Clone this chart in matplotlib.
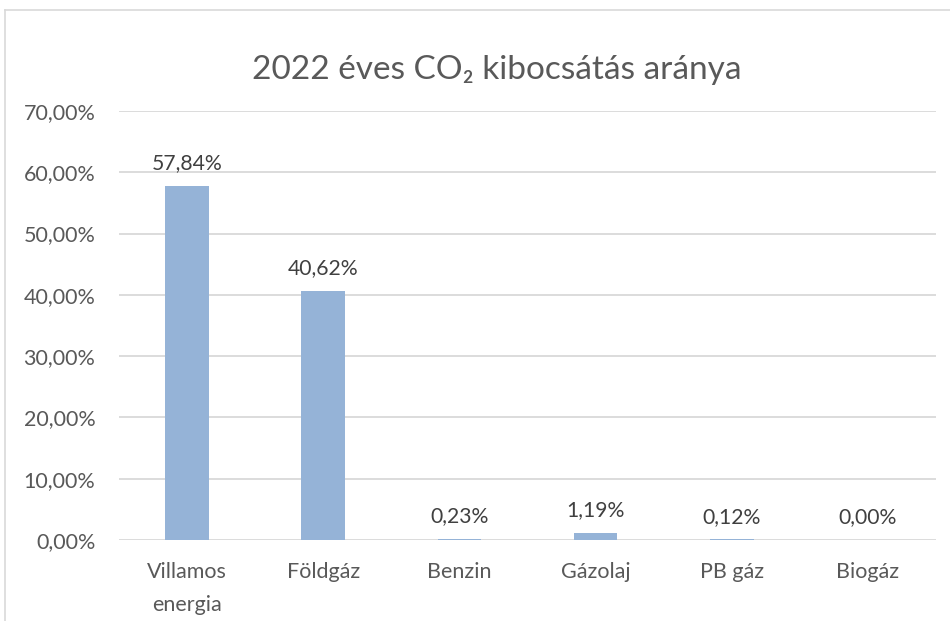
import matplotlib.pyplot as plt
from matplotlib.lines import Line2D
from matplotlib.ticker import FuncFormatter

categories = ["Villamos\nenergia", "Földgáz", "Benzin", "Gázolaj", "PB gáz", "Biogáz"]
values = [57.84, 40.62, 0.23, 1.19, 0.12, 0.00]
title = "2022 éves CO₂ kibocsátás aránya"

plt.rcParams["font.family"] = ["Lato", "DejaVu Sans"]
text_color = "#595959"
grid_color = "#D9D9D9"
bar_color = "#95B3D7"


def pct(v, pos=None):
    return ("%.2f%%" % v).replace(".", ",")


fig = plt.figure(figsize=(9.5, 6.21), dpi=100, facecolor="w")
ax = fig.add_axes([119 / 950, 1 - 540 / 621, 817 / 950, 429 / 621])

x = range(len(categories))
ax.bar(x, values, width=0.32, color=bar_color, zorder=3)
for xi, v in zip(x, values):
    ax.annotate(pct(v), (xi, v), xytext=(0, 9), textcoords="offset points",
                ha="center", va="bottom", fontsize=15.2, color="#404040")

ax.set_xlim(-0.5, len(categories) - 0.5)
ax.set_ylim(0, 70)
ax.set_yticks(range(0, 71, 10))
ax.yaxis.set_major_formatter(FuncFormatter(pct))
ax.set_xticks(list(x))
ax.set_xticklabels(categories, linespacing=1.8)
ax.tick_params(axis="both", length=0, labelsize=15.5, colors=text_color)
ax.tick_params(axis="y", pad=17)
ax.tick_params(axis="x", pad=16)
ax.grid(axis="y", color=grid_color, linewidth=1.3, zorder=0)
for s in ax.spines.values():
    s.set_visible(False)

fig.text(497 / 950, 1 - 70 / 621, title, ha="center", va="center",
         fontsize=24, color=text_color)

# chart-area frame, cut off at right and bottom
fig.add_artist(Line2D([5 / 950, 5 / 950], [0, 1 - 10 / 621], transform=fig.transFigure,
                      color=grid_color, linewidth=1.2))
fig.add_artist(Line2D([5 / 950, 1], [1 - 10 / 621, 1 - 10 / 621], transform=fig.transFigure,
                      color=grid_color, linewidth=1.2))

fig.savefig("out.png", dpi=100)
